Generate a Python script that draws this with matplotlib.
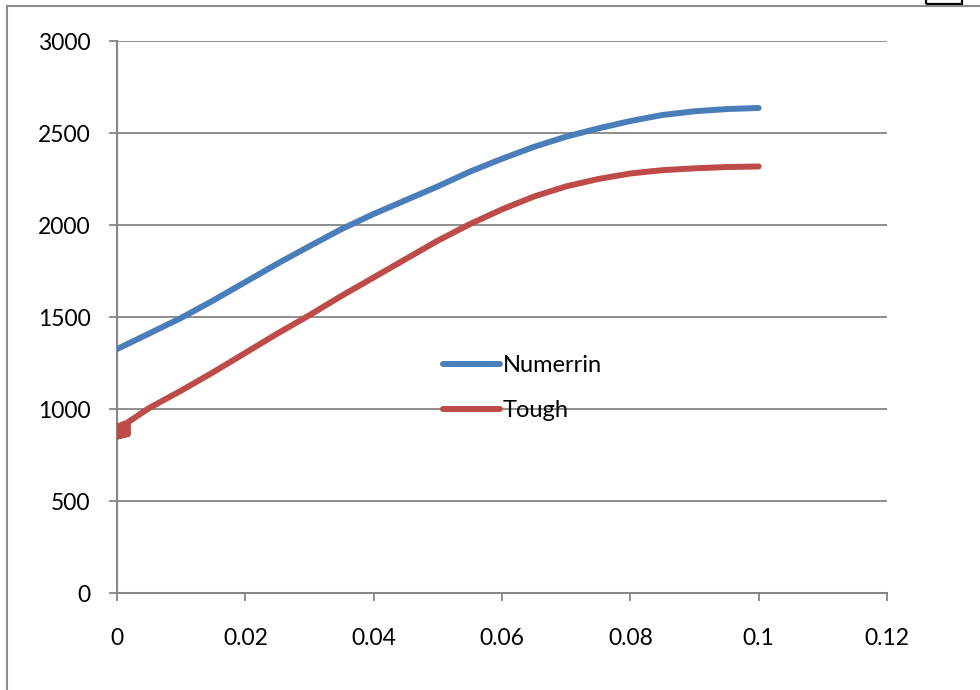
import matplotlib.pyplot as plt
from matplotlib.lines import Line2D
from matplotlib.patches import Rectangle

# data
x_num = [0, 0.005, 0.01, 0.015, 0.02, 0.025, 0.03, 0.035, 0.04, 0.045, 0.05,
         0.055, 0.06, 0.065, 0.07, 0.075, 0.08, 0.085, 0.09, 0.095, 0.1]
y_num = [1326, 1410, 1495, 1590, 1690, 1790, 1885, 1978, 2060, 2135, 2210,
         2290, 2360, 2425, 2480, 2525, 2565, 2598, 2618, 2630, 2636]

# Tough jumps up and down a few times right at the start
x_tough = [0, 0, 0.0004, 0.0004, 0.0008, 0.0008, 0.0012, 0.0012, 0.0017, 0.0017,
           0.005, 0.01, 0.015, 0.02, 0.025, 0.03, 0.035, 0.04, 0.045, 0.05,
           0.055, 0.06, 0.065, 0.07, 0.075, 0.08, 0.085, 0.09, 0.095, 0.1]
y_tough = [848, 905, 852, 910, 855, 915, 858, 921, 862, 928,
           1005, 1100, 1200, 1305, 1410, 1510, 1615, 1715, 1815, 1915,
           2005, 2085, 2155, 2210, 2250, 2280, 2298, 2308, 2315, 2318]

xticks = [0, 0.02, 0.04, 0.06, 0.08, 0.1, 0.12]
xtick_labels = ['0', '0.02', '0.04', '0.06', '0.08', '0.1', '0.12']
yticks = [0, 500, 1000, 1500, 2000, 2500, 3000]

plt.rcParams['font.family'] = ['Lato', 'DejaVu Sans']
grey = '#868686'

fig = plt.figure(figsize=(9.8, 6.9), dpi=100)
ax = fig.add_axes([117 / 980, 1 - 593 / 690, 770 / 980, 552 / 690])

ax.plot(x_num, y_num, color='#4A7EBB', lw=4.3, solid_capstyle='round',
        solid_joinstyle='round', label='Numerrin', zorder=3)
ax.plot(x_tough, y_tough, color='#BE4B48', lw=4.3, solid_capstyle='round',
        solid_joinstyle='round', label='Tough', zorder=3)

ax.set_xlim(0, 0.12)
ax.set_ylim(0, 3000)
ax.set_xticks(xticks)
ax.set_xticklabels(xtick_labels)
ax.set_yticks(yticks)
ax.grid(axis='y', color=grey, lw=1.3)
ax.set_axisbelow(True)

for s in ['top', 'right']:
    ax.spines[s].set_visible(False)
for s in ['left', 'bottom']:
    ax.spines[s].set_color(grey)
    ax.spines[s].set_linewidth(1.5)

ax.tick_params(axis='x', length=5.5, width=1.3, color=grey, pad=20, labelsize=16.5)
ax.tick_params(axis='y', length=6, width=1.3, color=grey, pad=13, labelsize=16.5)

ax.legend(loc='upper left', bbox_to_anchor=(0.4234, 0.431), frameon=False,
          fontsize=17, handlelength=2.4, handletextpad=0.12, labelspacing=1.02,
          borderpad=0, borderaxespad=0)

# chart area border and the small box at the top right
fig.add_artist(Line2D([7 / 980, 7 / 980], [0, 1 - 6 / 690], color='#8c8c8c', lw=1.5))
fig.add_artist(Line2D([7 / 980, 1], [1 - 6 / 690, 1 - 6 / 690], color='#8c8c8c', lw=1.5))
fig.add_artist(Rectangle((926 / 980, 1 - 4 / 690), 36 / 980, 0.02,
                         fill=False, ec='black', lw=1.6))

fig.savefig('out.png', dpi=100)
